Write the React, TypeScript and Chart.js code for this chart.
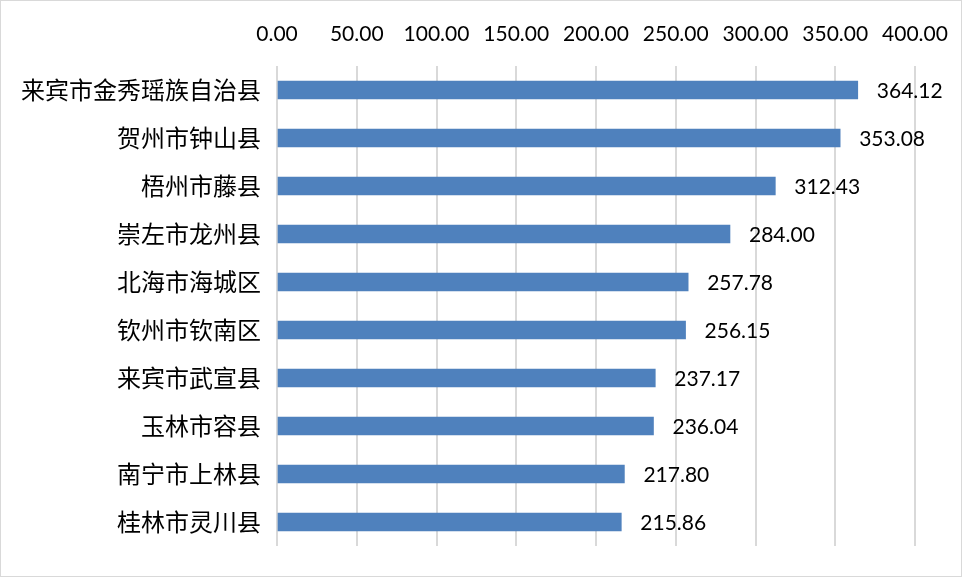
import React, { useEffect, useRef } from "react";
import { Chart, registerables } from "chart.js";

Chart.register(...registerables);

const categories = [
  "来宾市金秀瑶族自治县",
  "贺州市钟山县",
  "梧州市藤县",
  "崇左市龙州县",
  "北海市海城区",
  "钦州市钦南区",
  "来宾市武宣县",
  "玉林市容县",
  "南宁市上林县",
  "桂林市灵川县",
];
const values = [364.12, 353.08, 312.43, 284.0, 257.78, 256.15, 237.17, 236.04, 217.8, 215.86];
const axisMin = 0;
const axisMax = 400;
const axisStep = 50;

const labelPlugin = {
  id: "barValueLabels",
  afterDatasetsDraw(chart: any) {
    const ctx = chart.ctx;
    const meta = chart.getDatasetMeta(0);
    ctx.save();
    ctx.font = "21px Lato, 'Noto Sans', sans-serif";
    ctx.fillStyle = "#000000";
    ctx.textAlign = "left";
    ctx.textBaseline = "middle";
    meta.data.forEach((el: any, i: number) => {
      const v = chart.data.datasets[0].data[i] as number;
      ctx.fillText(v.toFixed(2), el.x + 19, el.y + 1);
    });
    ctx.restore();
  },
};

export default function App() {
  const ref = useRef<HTMLCanvasElement | null>(null);
  useEffect(() => {
    if (!ref.current) return;
    const chart = new Chart(ref.current, {
      type: "bar",
      data: {
        labels: categories,
        datasets: [
          {
            data: values,
            backgroundColor: "#4F81BD",
            borderWidth: 0,
            barThickness: 18,
          },
        ],
      },
      options: {
        indexAxis: "y",
        animation: false,
        responsive: false,
        devicePixelRatio: 1,
        layout: { padding: { left: 0, right: 47, top: 0, bottom: 31 } },
        plugins: { legend: { display: false }, tooltip: { enabled: false } },
        scales: {
          x: {
            position: "top",
            min: axisMin,
            max: axisMax,
            afterFit: (s: any) => {
              s.height = 66;
              s.paddingLeft = 0;
              s.paddingRight = 0;
            },
            ticks: {
              stepSize: axisStep,
              padding: 19,
              color: "#000000",
              font: { family: "Lato, 'Noto Sans', sans-serif", size: 21 },
              callback: (v: any) => Number(v).toFixed(2),
            },
            grid: { color: "#d9d9d9", lineWidth: 2, drawTicks: false },
            border: { display: false },
          },
          y: {
            afterFit: (s: any) => {
              s.width = 277;
              s.paddingTop = 0;
              s.paddingBottom = 0;
            },
            ticks: {
              padding: 16,
              color: "#000000",
              font: { family: "'Noto Sans CJK SC', sans-serif", size: 24 },
            },
            grid: { display: false, drawTicks: false },
            border: { display: false },
          },
        },
      },
      plugins: [labelPlugin],
    });
    return () => chart.destroy();
  }, []);
  return (
    <div style={{ position: "fixed", left: 0, top: 0, width: 962, height: 577, background: "#fff" }}>
      <canvas ref={ref} width={962} height={577} style={{ position: "absolute", left: 0, top: 0 }} />
      <div
        style={{
          position: "absolute",
          left: 0,
          top: 0,
          width: 962,
          height: 577,
          boxSizing: "border-box",
          border: "1px solid #d9d9d9",
          pointerEvents: "none",
        }}
      />
    </div>
  );
}
